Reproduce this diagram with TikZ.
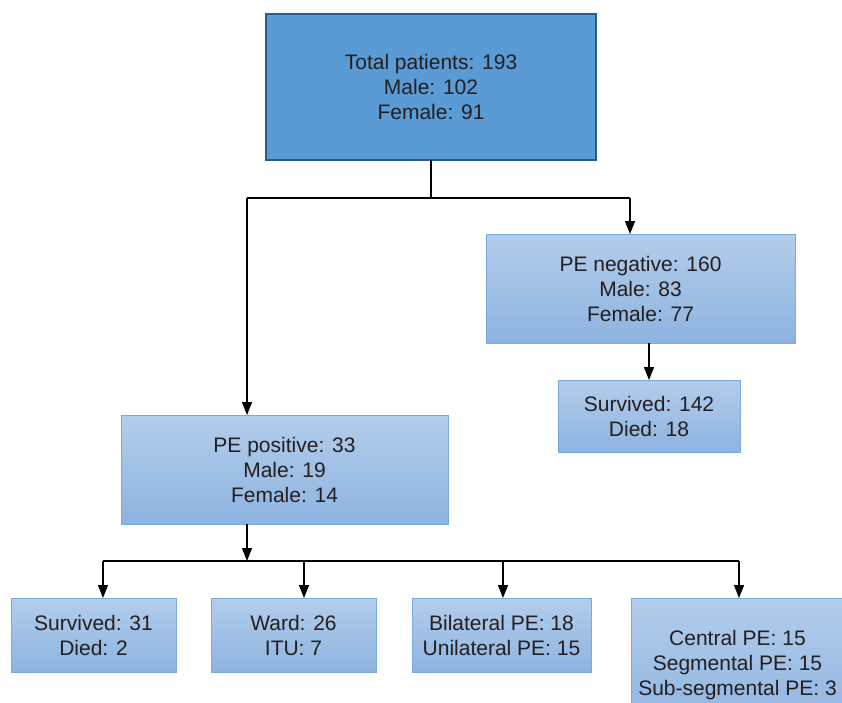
\documentclass[tikz,border=0pt]{standalone}
\usepackage{fontspec}
\setmainfont{Liberation Sans}
\usetikzlibrary{arrows.meta}
\definecolor{topfill}{HTML}{5B9BD5}
\definecolor{topdraw}{HTML}{2C5A8A}
\definecolor{boxtop}{HTML}{B3CDEB}
\definecolor{boxbot}{HTML}{8EB3E0}
\definecolor{boxdraw}{HTML}{7AA9DE}
\definecolor{txt}{HTML}{231F20}
\tikzset{
  topbox/.style={draw=topdraw, line width=2.2pt, fill=topfill, inner sep=0pt, outer sep=0pt, align=center, text=txt},
  subbox/.style={draw=boxdraw, line width=1pt, top color=boxtop, bottom color=boxbot, inner sep=0pt, outer sep=0pt, align=center, text=txt},
  conn/.style={line width=1.4pt, draw=black},
  arr/.style={conn, -{Triangle[width=10pt,length=13pt]}},
}
\begin{document}
\begin{tikzpicture}[x=1pt,y=-1pt, font=\fontsize{21}{25}\selectfont]
\useasboundingbox (0,0) rectangle (842,702);
\clip (0,0) rectangle (842,702);
\fill[white] (0,0) rectangle (842,702);
\node[topbox, minimum width=330pt, minimum height=146pt] (top) at (431,87) {Total patients: 193\\Male: 102\\Female: 91};
\node[subbox, minimum width=309pt, minimum height=109pt] (neg) at (640.5,288.5) {PE negative: 160\\Male: 83\\Female: 77};
\node[subbox, minimum width=182pt, minimum height=72pt] (s142) at (649,416) {Survived: 142\\Died: 18};
\node[subbox, minimum width=327pt, minimum height=109pt] (pos) at (284.5,469.5) {PE positive: 33\\Male: 19\\Female: 14};
\node[subbox, minimum width=165pt, minimum height=74pt] (b1) at (93.5,635) {Survived: 31\\Died: 2};
\node[subbox, minimum width=165pt, minimum height=74pt] (b2) at (293.5,635) {Ward: 26\\ITU: 7};
\node[subbox, minimum width=179pt, minimum height=74pt] (b3) at (501.5,635) {Bilateral PE: 18\\Unilateral PE: 15};
\node[subbox, minimum width=213pt, minimum height=134pt] (b4) at (737.5,665) {Central PE: 15\\Segmental PE: 15\\Sub-segmental PE: 3};
\coordinate (j1) at (431,198);
\coordinate (lx) at (247,198);
\coordinate (rx) at (630,198);
\coordinate (j2) at (247,561);
\coordinate (h1) at (103,561);
\coordinate (h2) at (304,561);
\coordinate (h3) at (503,561);
\coordinate (h4) at (739,561);
\draw[conn] (top.south) -- (j1);
\draw[conn] (lx) -- (rx);
\draw[arr] (lx) -- (lx |- pos.north);
\draw[arr] (rx) -- (rx |- neg.north);
\draw[arr] (s142.north |- neg.south) -- (s142.north);
\draw[arr] (pos.south -| j2) -- (j2);
\draw[conn] (h1) -- (h4);
\draw[arr] (h1) -- (h1 |- b1.north);
\draw[arr] (h2) -- (h2 |- b2.north);
\draw[arr] (h3) -- (h3 |- b3.north);
\draw[arr] (h4) -- (h4 |- b4.north);
\end{tikzpicture}
\end{document}
